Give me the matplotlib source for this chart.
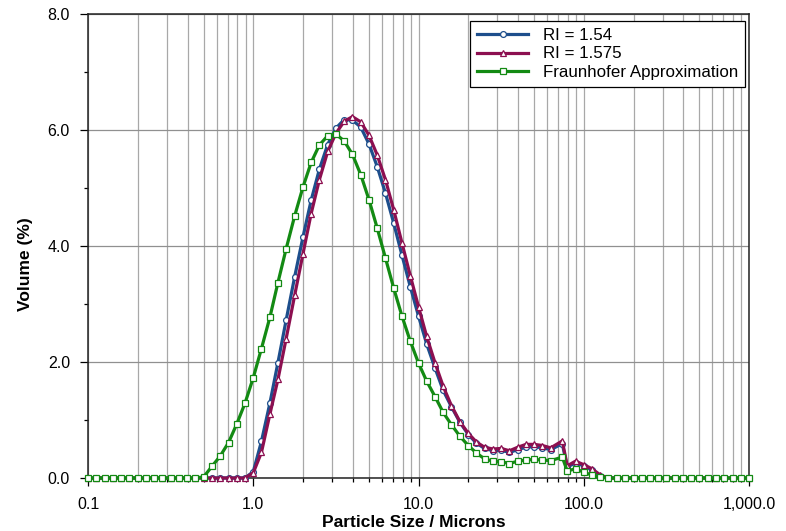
import matplotlib
matplotlib.use("Agg")
import matplotlib.pyplot as plt
from matplotlib.ticker import FixedLocator, FixedFormatter, NullFormatter

plt.rcParams['font.family'] = ['Liberation Sans', 'DejaVu Sans']

sizes = [0.100, 0.112, 0.126, 0.141, 0.158, 0.178, 0.200, 0.224, 0.251, 0.282,
         0.316, 0.355, 0.398, 0.447, 0.501, 0.562, 0.631, 0.708, 0.794, 0.891,
         1.00, 1.12, 1.26, 1.41, 1.58, 1.78, 2.00, 2.24, 2.51, 2.82,
         3.16, 3.55, 3.98, 4.47, 5.01, 5.62, 6.31, 7.08, 7.94, 8.91,
         10.0, 11.2, 12.6, 14.1, 15.8, 17.8, 20.0, 22.4, 25.1, 28.2,
         31.6, 35.5, 39.8, 44.7, 50.1, 56.2, 63.1, 74.1, 79.4, 89.1,
         100.0, 112.0, 126.0, 141.0, 158.0, 178.0, 200.0, 224.0, 251.0, 282.0,
         316.0, 355.0, 398.0, 447.0, 501.0, 562.0, 631.0, 708.0, 794.0, 891.0,
         1000.0]

ri_154 = [0, 0, 0, 0, 0, 0, 0, 0, 0, 0,
          0, 0, 0, 0, 0, 0, 0, 0, 0, 0,
          0.11, 0.63, 1.29, 1.99, 2.72, 3.47, 4.16, 4.79, 5.32, 5.75,
          6.03, 6.18, 6.17, 6.05, 5.76, 5.37, 4.91, 4.39, 3.84, 3.30,
          2.79, 2.31, 1.89, 1.51, 1.23, 0.96, 0.75, 0.60, 0.51, 0.47,
          0.48, 0.44, 0.49, 0.53, 0.54, 0.52, 0.49, 0.59, 0.19, 0.26,
          0.21, 0.14, 0.04, 0, 0, 0, 0, 0, 0, 0,
          0, 0, 0, 0, 0, 0, 0, 0, 0, 0,
          0]

ri_1575 = [0, 0, 0, 0, 0, 0, 0, 0, 0, 0,
           0, 0, 0, 0, 0, 0, 0, 0, 0, 0,
           0.09, 0.44, 1.10, 1.70, 2.40, 3.15, 3.87, 4.56, 5.14, 5.63,
           5.94, 6.15, 6.23, 6.14, 5.91, 5.57, 5.14, 4.62, 4.05, 3.49,
           2.95, 2.44, 1.98, 1.58, 1.25, 0.97, 0.77, 0.62, 0.53, 0.50,
           0.51, 0.47, 0.53, 0.58, 0.58, 0.56, 0.52, 0.64, 0.21, 0.29,
           0.23, 0.16, 0.05, 0, 0, 0, 0, 0, 0, 0,
           0, 0, 0, 0, 0, 0, 0, 0, 0, 0,
           0]

fraunhofer = [0, 0, 0, 0, 0, 0, 0, 0, 0, 0,
              0, 0, 0, 0, 0.02, 0.20, 0.38, 0.61, 0.93, 1.29,
              1.73, 2.23, 2.77, 3.37, 3.95, 4.52, 5.02, 5.44, 5.74, 5.90,
              5.93, 5.81, 5.58, 5.23, 4.80, 4.31, 3.79, 3.27, 2.79, 2.36,
              1.98, 1.67, 1.40, 1.13, 0.92, 0.72, 0.56, 0.43, 0.33, 0.29,
              0.28, 0.25, 0.29, 0.31, 0.32, 0.31, 0.30, 0.36, 0.12, 0.16,
              0.10, 0.05, 0.01, 0, 0, 0, 0, 0, 0, 0,
              0, 0, 0, 0, 0, 0, 0, 0, 0, 0,
              0]

series_labels = ['RI = 1.54', 'RI = 1.575', 'Fraunhofer Approximation']
x_major = [0.1, 1.0, 10.0, 100.0, 1000.0]
x_major_labels = ['0.1', '1.0', '10.0', '100.0', '1,000.0']
y_major = [0, 2, 4, 6, 8]
y_major_labels = ['0.0', '2.0', '4.0', '6.0', '8.0']
y_minor = [1, 3, 5, 7]
x_label = 'Particle Size / Microns'
y_label = 'Volume (%)'

fig = plt.figure(figsize=(7.86, 5.31), dpi=100)
ax = fig.add_axes([0.112, 0.0998, 0.841, 0.8738])

ax.set_xscale('log')
ax.set_xlim(0.1, 1000)
ax.set_ylim(0, 8)

x_minor = [m * d for d in [0.1, 1, 10, 100] for m in range(2, 10)]
ax.xaxis.set_major_locator(FixedLocator(x_major))
ax.xaxis.set_major_formatter(FixedFormatter(x_major_labels))
ax.xaxis.set_minor_locator(FixedLocator(x_minor))
ax.xaxis.set_minor_formatter(NullFormatter())
ax.yaxis.set_major_locator(FixedLocator(y_major))
ax.yaxis.set_major_formatter(FixedFormatter(y_major_labels))
ax.yaxis.set_minor_locator(FixedLocator(y_minor))

grid_c = '#a8a8a8'
ax.grid(True, which='both', axis='x', color=grid_c, linewidth=0.9)
ax.grid(True, which='major', axis='y', color='#909090', linewidth=0.9)
ax.set_axisbelow(True)

ax.tick_params(axis='both', which='major', direction='out', length=6, width=0.9,
               labelsize=11.5, colors='black')
ax.tick_params(axis='both', which='minor', direction='out', length=3, width=0.9)
ax.tick_params(axis='x', which='major', pad=8.0)
ax.tick_params(axis='y', which='major', pad=7)

for s in ax.spines.values():
    s.set_linewidth(1.1)
    s.set_color('#222222')

colors = ['#1d4e8c', '#8c0f50', '#138a13']
markers = ['o', '^', 's']
msizes = [4.2, 4.4, 5.0]
data = [ri_154, ri_1575, fraunhofer]
for y, c, m, ms, lab in zip(data, colors, markers, msizes, series_labels):
    ax.plot(sizes, y, color=c, linewidth=2.3, marker=m, markersize=ms,
            markerfacecolor='white', markeredgecolor=c, markeredgewidth=0.9,
            label=lab, clip_on=False, zorder=3)

leg = ax.legend(loc='upper right', bbox_to_anchor=(0.994, 0.985), borderaxespad=0,
                fontsize=12.2, frameon=True, fancybox=False, edgecolor='black',
                handlelength=3.0, handletextpad=0.85, labelspacing=0.2,
                borderpad=0.42, markerscale=1.0)
leg.get_frame().set_linewidth(0.9)
leg.get_frame().set_alpha(1)
leg.set_zorder(5)

ax.set_xlabel(x_label, fontsize=12.5, fontweight='bold')
ax.set_ylabel(y_label, fontsize=12.5, fontweight='bold')
ax.xaxis.set_label_coords(0.493, -0.079)
ax.yaxis.set_label_coords(-0.083, 0.46)

fig.savefig('out.png', dpi=100)
